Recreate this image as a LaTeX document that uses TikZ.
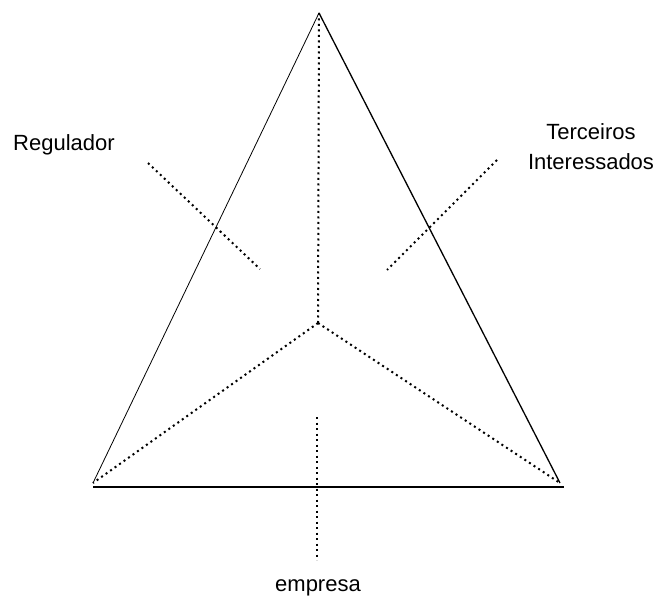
\documentclass[tikz,border=0pt]{standalone}
\usepackage{fontspec}
\setmainfont{Liberation Sans}

\tikzset{
  edgeline/.style={black,line width=1.1pt},
  dotline/.style={black,line width=2pt,dash pattern=on 2pt off 3.5pt},
  actorlabel/.style={font=\fontsize{22}{30}\selectfont,align=center,inner sep=0pt}
}

\begin{document}
\begin{tikzpicture}[x=1pt,y=-1pt]
  \useasboundingbox (0,0) rectangle (656,604);

  % ---- corners of the triangle ----
  \coordinate (apex)    at (319,13);
  \coordinate (cornerL) at (93,483);
  \coordinate (cornerR) at (560,483);
  \coordinate (centre)  at (318,323);
  \coordinate (baseL)   at (93,487);
  \coordinate (baseR)   at (564,487);

  % ---- triangle ----
  \draw[edgeline,line width=0.8pt] (apex) -- (cornerL);
  \draw[edgeline,line width=1.3pt] (apex) -- (cornerR);
  \draw[edgeline,line width=1.3pt] (baseL) -- (baseR);

  % ---- dotted partition from the centre ----
  \draw[dotline] (apex) -- (centre);
  \draw[dotline] (centre) -- (cornerL);
  \draw[dotline] (centre) -- (cornerR);

  % ---- dotted ticks towards the actors ----
  \coordinate (regA) at (148,163);
  \coordinate (regB) at (260,269);
  \coordinate (terA) at (497,160);
  \coordinate (terB) at (387,270);
  \coordinate (empA) at (317,417);
  \coordinate (empB) at (317,560);
  \draw[dotline] (regA) -- (regB);
  \draw[dotline] (terA) -- (terB);
  \draw[dotline] (empA) -- (empB);

  % ---- actors ----
  \node[actorlabel] (regulador) at (64,145) {Regulador};
  \node[actorlabel] (terceiros) at (591,147) {Terceiros\\Interessados};
  \node[actorlabel] (empresa)   at (318,588) {empresa};
\end{tikzpicture}
\end{document}
